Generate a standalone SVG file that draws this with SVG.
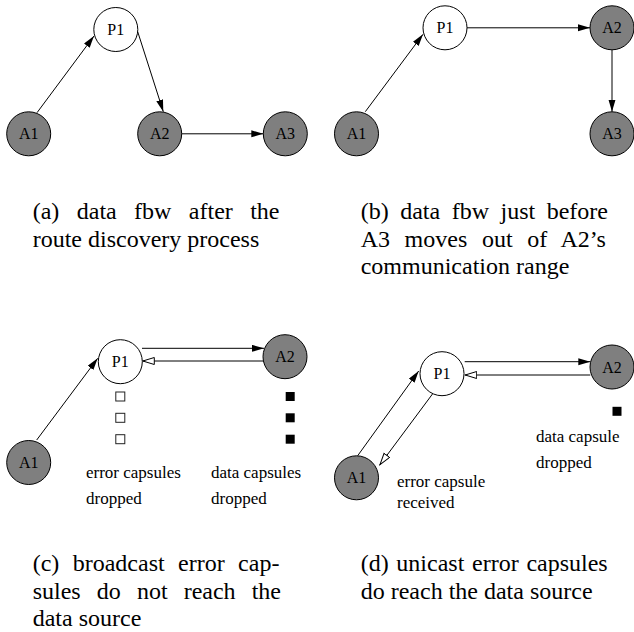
<svg xmlns="http://www.w3.org/2000/svg" width="634" height="632" viewBox="0 0 634 632">
<style>
.p{fill:#ffffff;stroke:#000;stroke-width:1}
.a{fill:#7f7f7f;stroke:#000;stroke-width:1}
.nl{font-family:"Liberation Serif","Times New Roman",serif;font-size:16px;text-anchor:middle;fill:#000}
.lb{font-family:"Liberation Serif","Times New Roman",serif;font-size:17px;fill:#000}
.cap{font-family:"Liberation Serif","Times New Roman",serif;font-size:24px;fill:#000}
.e{stroke:#000;stroke-width:1;fill:none}
.f{marker-end:url(#ah)}
.h{marker-end:url(#hh)}
.sq{fill:#fff;stroke:#222;stroke-width:1}
.sf{fill:#000}
</style>
<defs>
<marker id="ah" markerUnits="userSpaceOnUse" markerWidth="14" markerHeight="9" refX="12" refY="3.5" orient="auto">
<path d="M0,0 L12,3.5 L0,7 z" fill="#000"/>
</marker>
<marker id="hh" markerUnits="userSpaceOnUse" markerWidth="14" markerHeight="9" refX="12.5" refY="4" orient="auto">
<path d="M0.5,0.5 L12,4 L0.5,7.5 z" fill="#fff" stroke="#000" stroke-width="1"/>
</marker>
</defs>

<g id="connectors">
<line class="e f" x1="37" y1="112.7" x2="94" y2="36"/>
<line class="e f" x1="137.7" y1="31.7" x2="163.3" y2="111.7"/>
<line class="e f" x1="181.7" y1="133.8" x2="263.3" y2="133.8"/>
<line class="e f" x1="365.3" y1="111.7" x2="423" y2="34.3"/>
<line class="e f" x1="467" y1="27.8" x2="590" y2="27.8"/>
<line class="e f" x1="612" y1="49.8" x2="612" y2="111.8"/>
<line class="e f" x1="36.7" y1="440" x2="97.7" y2="358.3"/>
<line class="e f" x1="142" y1="348.3" x2="264" y2="348.3"/>
<line class="e h" x1="263.4" y1="361" x2="142.3" y2="361"/>
<line class="e f" x1="464.7" y1="361.7" x2="590.3" y2="361.7"/>
<line class="e h" x1="590.3" y1="375" x2="464.7" y2="375"/>
<line class="e f" x1="357.7" y1="455.7" x2="418.7" y2="371"/>
<line class="e h" x1="433" y1="393.3" x2="379.7" y2="465"/>
</g>

<g id="a-P1"><circle class="p" cx="115.8" cy="29.5" r="22"/><text class="nl" x="115.8" y="35">P1</text></g>
<g id="a-A1"><circle class="a" cx="28.7" cy="133.8" r="22"/><text class="nl" x="28.7" y="139.3">A1</text></g>
<g id="a-A2"><circle class="a" cx="159.7" cy="133.8" r="22"/><text class="nl" x="159.7" y="139.3">A2</text></g>
<g id="a-A3"><circle class="a" cx="285.3" cy="133.8" r="22"/><text class="nl" x="285.3" y="139.3">A3</text></g>

<g id="b-P1"><circle class="p" cx="445" cy="27.8" r="22"/><text class="nl" x="445" y="33.3">P1</text></g>
<g id="b-A2"><circle class="a" cx="612" cy="27.8" r="22"/><text class="nl" x="612" y="33.3">A2</text></g>
<g id="b-A3"><circle class="a" cx="612" cy="133.8" r="22"/><text class="nl" x="612" y="139.3">A3</text></g>
<g id="b-A1"><circle class="a" cx="356.5" cy="133.8" r="22"/><text class="nl" x="356.5" y="139.3">A1</text></g>

<g id="c-P1"><circle class="p" cx="120.3" cy="361.7" r="22"/><text class="nl" x="120.3" y="367.2">P1</text></g>
<g id="c-A2"><circle class="a" cx="285" cy="356.7" r="22"/><text class="nl" x="285" y="362.2">A2</text></g>
<g id="c-A1"><circle class="a" cx="28.7" cy="462.5" r="22"/><text class="nl" x="28.7" y="468">A1</text></g>
<g id="c-error-capsules">
<rect class="sq" x="115.8" y="392" width="9" height="9"/>
<rect class="sq" x="115.8" y="413.3" width="9" height="9"/>
<rect class="sq" x="115.8" y="434.7" width="9" height="9"/>
<text class="lb" x="86" y="478.3">error capsules</text>
<text class="lb" x="86" y="504.3">dropped</text>
</g>
<g id="c-data-capsules">
<rect class="sf" x="285.7" y="392" width="9" height="9"/>
<rect class="sf" x="285.7" y="413.3" width="9" height="9"/>
<rect class="sf" x="285.7" y="434.7" width="9" height="9"/>
<text class="lb" x="211" y="478.3">data capsules</text>
<text class="lb" x="211" y="504.3">dropped</text>
</g>

<g id="d-P1"><circle class="p" cx="442" cy="373.7" r="22"/><text class="nl" x="442" y="379.2">P1</text></g>
<g id="d-A2"><circle class="a" cx="612" cy="367" r="22"/><text class="nl" x="612" y="372.5">A2</text></g>
<g id="d-A1"><circle class="a" cx="356.5" cy="477.8" r="22"/><text class="nl" x="356.5" y="483.3">A1</text></g>
<g id="d-data-capsule">
<rect class="sf" x="612.5" y="406.8" width="9" height="9"/>
<text class="lb" x="536" y="441.7">data capsule</text>
<text class="lb" x="536" y="468.3">dropped</text>
</g>
<g id="d-error-capsule">
<text class="lb" x="397" y="486.7">error capsule</text>
<text class="lb" x="397" y="508.3">received</text>
</g>

<g id="caption-a">
<text class="cap" x="32.7" y="219" word-spacing="11.4">(a) data fbw after the</text>
<text class="cap" x="32.7" y="246.5">route discovery process</text>
</g>
<g id="caption-b">
<text class="cap" x="360.7" y="219" word-spacing="5.5">(b) data fbw just before</text>
<text class="cap" x="360.7" y="246.5" word-spacing="8.6">A3 moves out of A2’s</text>
<text class="cap" x="360.7" y="274">communication range</text>
</g>
<g id="caption-c">
<text class="cap" x="32.7" y="571" word-spacing="7.4">(c) broadcast error cap-</text>
<text class="cap" x="32.7" y="598.5" word-spacing="10.1">sules do not reach the</text>
<text class="cap" x="32.7" y="626">data source</text>
</g>
<g id="caption-d">
<text class="cap" x="360.7" y="571" word-spacing="1.7">(d) unicast error capsules</text>
<text class="cap" x="360.7" y="598.5">do reach the data source</text>
</g>
</svg>
